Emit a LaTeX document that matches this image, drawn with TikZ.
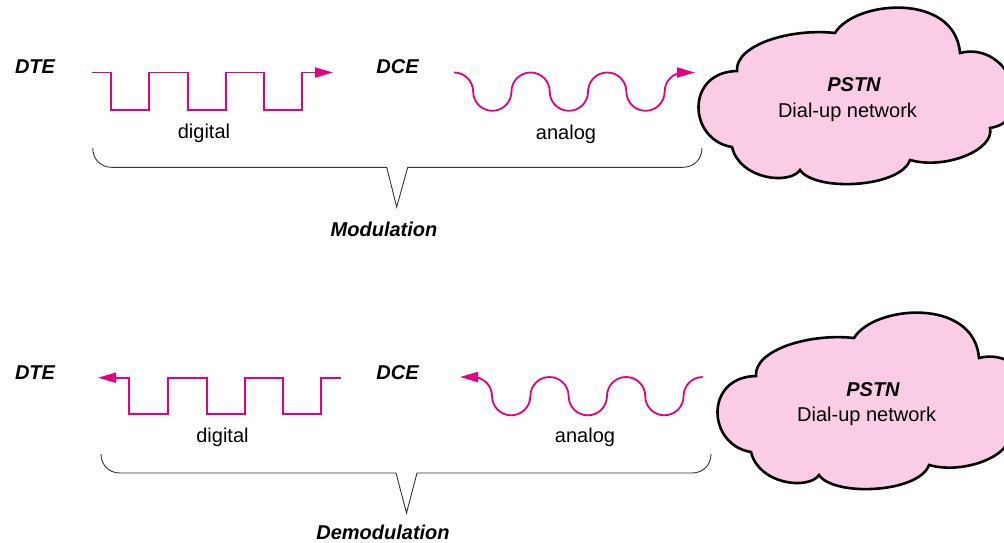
\documentclass[tikz,border=0pt]{standalone}
\usepackage{fontspec}
\setmainfont{Liberation Sans}
\usetikzlibrary{arrows.meta}
\definecolor{signal}{RGB}{230,0,126}
\definecolor{cloudfill}{RGB}{251,204,229}
\begin{document}
\begin{tikzpicture}[x=1pt,y=-1pt,
  sig/.style={draw=signal,line width=1.8pt,line join=miter},
  tip/.style={-{Triangle[length=18pt,width=10pt]}},
  brace/.style={draw=black!80,line width=0.9pt},
  cloudshape/.style={draw=black,fill=cloudfill,line width=2.6pt},
  station/.style={font=\fontsize{20}{24}\selectfont\bfseries\itshape,inner sep=0pt},
  caption/.style={font=\fontsize{20}{24}\selectfont,inner sep=0pt},
]
\useasboundingbox (0,0) rectangle (1004,542);

% ---------- PSTN clouds (the lower one is the same outline, shifted) ----------
\foreach \dx/\dy/\nm in {0/0/A,19/305/B}{
  \begin{scope}[shift={(\dx,\dy)}]
    \path[cloudshape] (737,71)
      .. controls (735,45) and (790,28) .. (835,33)
      .. controls (855,0) and (955,-8) .. (960,53)
      .. controls (1010,40) and (1040,120) .. (990,128)
      .. controls (995,150) and (945,170) .. (910,160)
      .. controls (900,188) and (815,192) .. (800,170)
      .. controls (790,185) and (740,180) .. (732,147)
      .. controls (688,140) and (685,72) .. (737,71) -- cycle;
  \end{scope}
}

% ================= Modulation =================
\node[station] (dteA) at (35,66.7) {DTE};
\node[station] (dceA) at (397.5,66.7) {DCE};

% digital square wave, DTE side
\draw[sig,tip] (92,72.5) -| (111,110) -| (149,72.5) -| (188,110) -| (226,72.5)
  -| (264,110) -| (302,72.5) -- (333,72.5);
\node[caption] (digA) at (204,133) {digital};

% analog carrier, DCE side
\draw[sig,tip] (454,72.5) arc[start angle=-90,end angle=0,radius=19.15]
  arc[start angle=180,end angle=0,radius=19.15]
  arc[start angle=180,end angle=360,radius=19.15]
  arc[start angle=180,end angle=0,radius=19.15]
  arc[start angle=180,end angle=360,radius=19.15]
  arc[start angle=180,end angle=0,radius=19.15]
  arc[start angle=180,end angle=270,radius=19.15] -- (695,72.5);
\node[caption] (anaA) at (566,134) {analog};

\node[station] (pstnA) at (854,85) {PSTN};
\node[caption] (netA) at (847.5,112) {Dial-up network};

% brace
\draw[brace] (92.7,148) .. controls (92.7,159) and (100.7,167.3) .. (111.7,167.3)
  -- (386.7,167.3) -- (396.7,207) -- (407.7,167.3) -- (683,167.3)
  .. controls (694,167.3) and (702,159) .. (702,148);
\node[station] (modA) at (384,229) {Modulation};

% ================= Demodulation =================
\node[station] (dteB) at (35,372.7) {DTE};
\node[station] (dceB) at (397.5,372.7) {DCE};

\draw[sig,tip] (341,377.7) -| (321,414.3) -| (283.3,377.7) -| (245,414.3) -| (206.7,377.7)
  -| (168.3,414.3) -| (129.3,377.7) -- (98,377.7);
\node[caption] (digB) at (222.5,437) {digital};

\draw[sig,tip] (702.7,377) arc[start angle=270,end angle=180,radius=19.15]
  arc[start angle=0,end angle=180,radius=19.15]
  arc[start angle=0,end angle=-180,radius=19.15]
  arc[start angle=0,end angle=180,radius=19.15]
  arc[start angle=0,end angle=-180,radius=19.15]
  arc[start angle=0,end angle=180,radius=19.15]
  arc[start angle=0,end angle=-90,radius=19.15] -- (460,377);
\node[caption] (anaB) at (585,437) {analog};

\node[station] (pstnB) at (873,390) {PSTN};
\node[caption] (netB) at (866.7,416.7) {Dial-up network};

\draw[brace] (101,454) .. controls (101,465) and (109,473) .. (120,473)
  -- (396,473) -- (406.5,513) -- (417,473) -- (692,473)
  .. controls (703,473) and (711,465) .. (711,454);
\node[station] (modB) at (383,532) {Demodulation};
\end{tikzpicture}
\end{document}
